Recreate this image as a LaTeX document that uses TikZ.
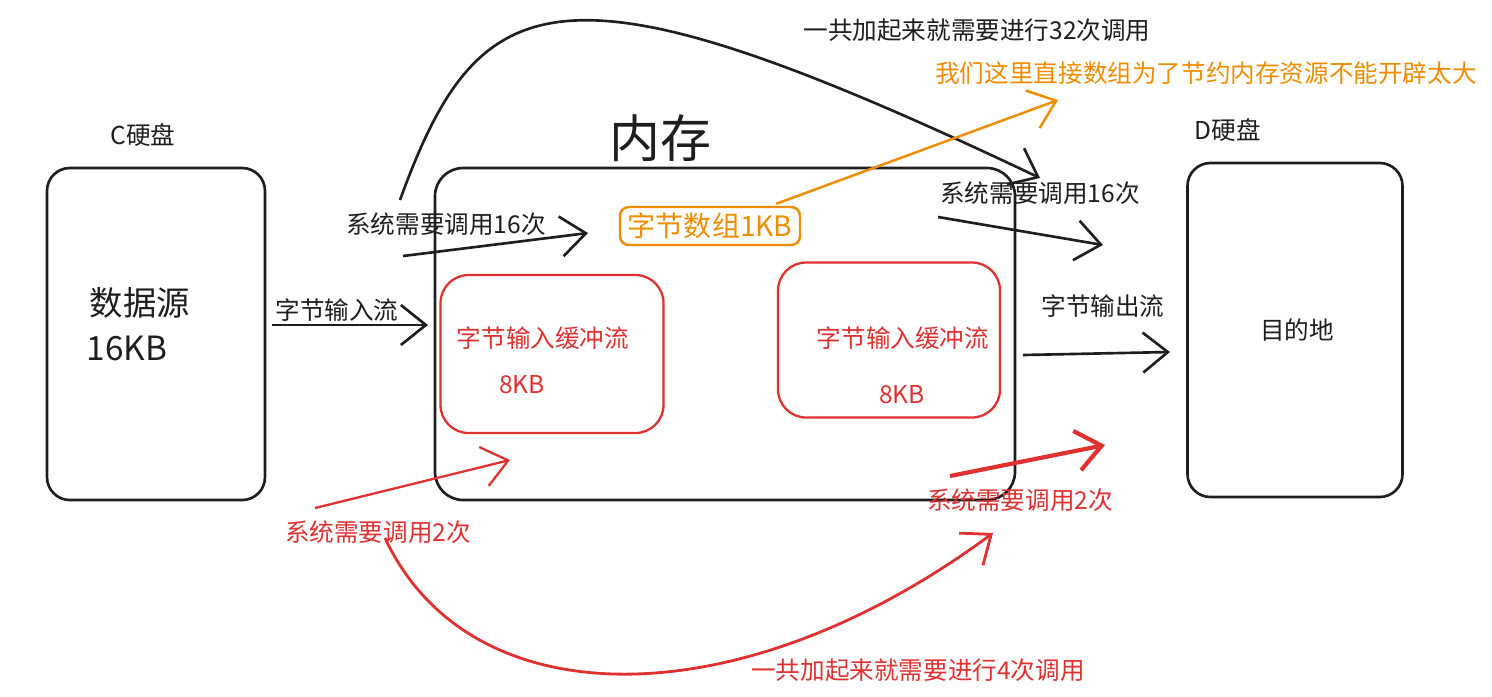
\documentclass[tikz,border=0pt]{standalone}
\usepackage{fontspec}
\setmainfont{Noto Sans CJK SC}
\usetikzlibrary{positioning,arrows.meta}
\definecolor{inkblack}{RGB}{30,30,30}
\definecolor{inkred}{RGB}{224,49,49}
\definecolor{inkorange}{RGB}{240,140,0}

\begin{document}
\begin{tikzpicture}[
  x=0.2mm, y=-0.2mm,
  diskbox/.style={draw=inkblack, line width=1.5pt, rounded corners=13pt,
                  minimum width=43.6mm, minimum height=66.4mm},
  membox/.style={draw=inkblack, line width=1.5pt, rounded corners=16pt,
                 minimum width=116mm, minimum height=66.4mm},
  bufbox/.style={draw=inkred, line width=1.3pt, rounded corners=16pt,
                 minimum width=44.6mm, minimum height=31.6mm},
  arraybox/.style={draw=inkorange, line width=1.4pt, rounded corners=5pt,
                   minimum width=36mm, minimum height=7.6mm, inner sep=0pt,
                   text=inkorange, font=\fontsize{16}{18}\selectfont},
  lbl/.style={inner sep=0pt, text=inkblack, font=\fontsize{14}{16}\selectfont},
  redlbl/.style={lbl, text=inkred},
  orangelbl/.style={lbl, text=inkorange},
  arr/.style={-{Straight Barb[length=5mm,width=8mm]}, line width=1.5pt, draw=inkblack},
  redarr/.style={arr, draw=inkred, line width=1.3pt},
  orangearr/.style={arr, draw=inkorange, line width=1.4pt},
]
\useasboundingbox (0,0) rectangle (1492,696);

% Disks and memory
\node[diskbox] (src) at (156,334) {};
\node[lbl, above=4mm of src, xshift=-2.6mm] (srclbl) {C硬盘};
\node[lbl, font=\fontsize{19}{21}\selectfont] (srcname) at (140,303) {数据源};
\node[lbl, font=\fontsize{19}{21}\selectfont] (srcsize) at (127,348) {16KB};

\node[membox] (mem) at (725,334) {};
\node[lbl, font=\fontsize{29}{31}\selectfont] (memlbl) at (660,138) {内存};

\node[diskbox, minimum height=66.8mm, minimum width=43mm] (dst) at (1295,330) {};
\node[lbl] (dstlbl) at (1228,130) {D硬盘};
\node[lbl] (dstname) at (1297,330) {目的地};

% Inside memory
\node[arraybox] (arr1k) at (710,226) {字节数组1KB};
\node[bufbox] (buf1) at (552,354) {};
\node[redlbl] (buf1name) at (543,338) {字节输入缓冲流};
\node[redlbl] (buf1size) at (522,385) {8KB};
\node[bufbox, minimum width=44.4mm, minimum height=31mm] (buf2) at (889,340) {};
\node[redlbl] (buf2name) at (903,338) {字节输入缓冲流};
\node[redlbl] (buf2size) at (902,395) {8KB};

% Streams
\coordinate (inS) at (272,325);
\coordinate (inE) at (428,325);
\draw[arr] (inS) -- (inE);
\node[lbl] (inlbl) at (337,310) {字节输入流};

\coordinate (outS) at (1023,355);
\coordinate (outE) at (1170,352);
\draw[arr] (outS) -- (outE);
\node[lbl] (outlbl) at (1103,306) {字节输出流};

% Calls without buffer
\coordinate (readS) at (403,256);
\coordinate (readE) at (588,233);
\draw[arr] (readS) -- (readE);
\node[lbl] (readlbl) at (446,224) {系统需要调用16次};

\coordinate (writeS) at (938,217);
\coordinate (writeE) at (1103,245);
\draw[arr] (writeS) -- (writeE);
\node[lbl] (writelbl) at (1040,193) {系统需要调用16次};

\coordinate (sumS) at (400,200);
\coordinate (sumE) at (1040,178);
\draw[arr] (sumS) .. controls (480,-20) and (560,-50) .. (sumE);
\node[lbl] (sumlbl) at (977,30) {一共加起来就需要进行32次调用};

% Note on the array
\coordinate (noteE) at (1058,100);
\draw[orangearr] (arr1k.north east) ++(-25,-2) coordinate (noteS) -- (noteE);
\node[orangelbl] (notelbl) at (1206,73) {我们这里直接数组为了节约内存资源不能开辟太大};

% Calls with buffer
\coordinate (bufreadS) at (315,508);
\coordinate (bufreadE) at (510,460);
\draw[redarr] (bufreadS) -- (bufreadE);
\node[redlbl] (bufreadlbl) at (378,532) {系统需要调用2次};

\coordinate (bufwriteS) at (950,476);
\coordinate (bufwriteE) at (1105,445);
\draw[redarr, line width=2.4pt] (bufwriteS) -- (bufwriteE);
\node[redlbl] (bufwritelbl) at (1020,500) {系统需要调用2次};

\coordinate (bufsumS) at (385,538);
\coordinate (bufsumE) at (993,533);
\draw[redarr, line width=1.6pt] (bufsumS) .. controls (470,720) and (740,720) .. (bufsumE);
\node[redlbl] (bufsumlbl) at (918,670) {一共加起来就需要进行4次调用};
\end{tikzpicture}
\end{document}
